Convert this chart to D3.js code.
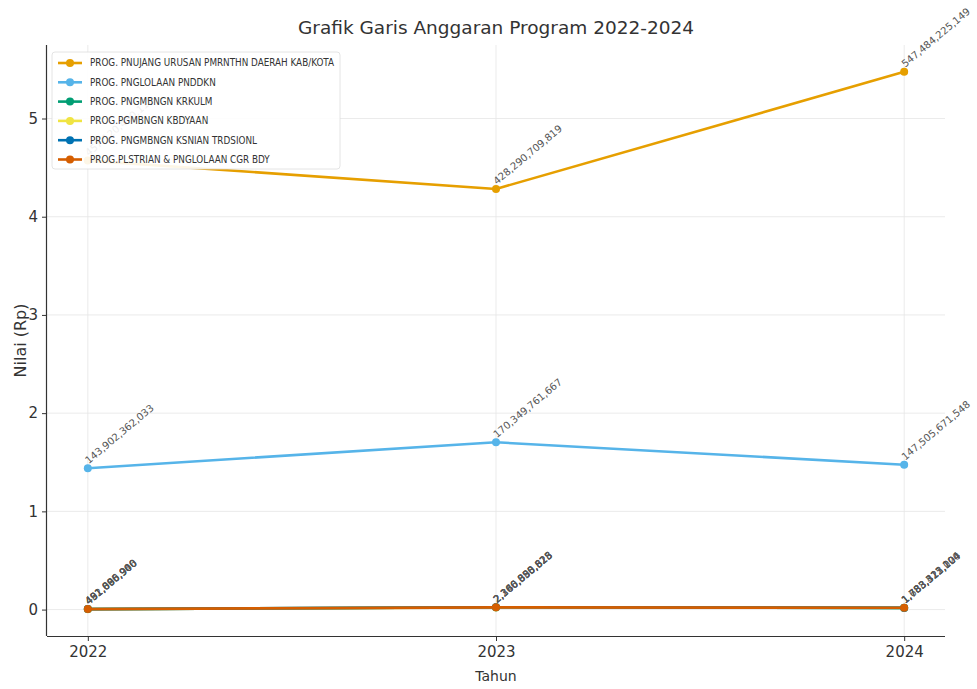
<!DOCTYPE html>
<html>
<head>
<meta charset="utf-8">
<script src="https://cdn.jsdelivr.net/npm/d3@7"></script>
<style>
  html, body { margin: 0; padding: 0; background: #fff; }
  svg { display: block; }
</style>
</head>
<body>
<svg id="chart" width="977" height="689"></svg>
<script>
// ---- data ----
const years = [2022, 2023, 2024];
const seriesNames = [
  "PROG. PNUJANG URUSAN PMRNTHN DAERAH KAB/KOTA",
  "PROG. PNGLOLAAN PNDDKN",
  "PROG. PNGMBNGN KRKULM",
  "PROG.PGMBNGN KBDYAAN",
  "PROG. PNGMBNGN KSNIAN TRDSIONL",
  "PROG.PLSTRIAN & PNGLOLAAN CGR BDY"
];
const seriesColors = ["#E69F00", "#56B4E9", "#009E73", "#F0E442", "#0072B2", "#D55E00"];
const valPemerintahan = [457120450110, 428290709819, 547484225149];
const valPendidikan   = [143902362033, 170349761667, 147505671548];
const valKurikulum    = [491890960, 2360895825, 1783512004];
const valKebudayaan   = [451096900, 2166350525, 1683315120];
const valKesenian     = [492666946, 2340880628, 1733421204];
const valCagarBudaya  = [481085900, 2286058818, 1788323104];
const seriesValues = [valPemerintahan, valPendidikan, valKurikulum, valKebudayaan, valKesenian, valCagarBudaya];
const yTicks = [0, 1, 2, 3, 4, 5];   // in units of 1e11
const yUnit = 1e11;

const title = "Grafik Garis Anggaran Program 2022-2024";
const xLabel = "Tahun";
const yLabel = "Nilai (Rp)";

// ---- layout ----
const svg = d3.select("#chart");
const pL = 47, pR = 945, pT = 45, pB = 636;

const allVals = seriesValues.flat();
const [vmin, vmax] = d3.extent(allVals);
const pad = (vmax - vmin) * 0.05;
const y = d3.scaleLinear().domain([vmin - pad, vmax + pad]).range([pB, pT]);
const x = d3.scaleLinear().domain([years[0] - 0.1, years[years.length - 1] + 0.1]).range([pL, pR]);

// grid
const g = svg.append("g");
g.selectAll("line.hg").data(yTicks).join("line")
  .attr("x1", pL).attr("x2", pR)
  .attr("y1", d => y(d * yUnit)).attr("y2", d => y(d * yUnit))
  .attr("stroke", "#e6e6e6").attr("stroke-width", 0.8);
g.selectAll("line.vg").data(years).join("line")
  .attr("x1", d => x(d)).attr("x2", d => x(d))
  .attr("y1", pT).attr("y2", pB)
  .attr("stroke", "#e6e6e6").attr("stroke-width", 0.8);

// axes
const xAxis = d3.axisBottom(x).tickValues(years).tickFormat(d3.format("d")).tickSize(5).tickPadding(5);
const yAxis = d3.axisLeft(y).tickValues(yTicks.map(d => d * yUnit)).tickFormat(d => d3.format("d")(d / yUnit)).tickSize(5).tickPadding(4);

const gx = svg.append("g").attr("transform", `translate(0,${pB})`).call(xAxis);
gx.select(".domain").attr("d", `M${pL},0.5H${pR}`).attr("stroke", "#333").attr("stroke-width", 1.2);
gx.selectAll(".tick line").attr("stroke", "#333");
gx.selectAll(".tick text").attr("fill", "#333").style("font-family", "DejaVu Sans, sans-serif").style("font-size", "15px");

const gy = svg.append("g").attr("transform", `translate(${pL},0)`).call(yAxis);
gy.select(".domain").attr("d", `M-0.5,${pT}V${pB}`).attr("stroke", "#333").attr("stroke-width", 1.2);
gy.selectAll(".tick line").attr("stroke", "#333");
gy.selectAll(".tick text").attr("fill", "#333").style("font-family", "DejaVu Sans, sans-serif").style("font-size", "15px");

// lines
const line = d3.line().x((d, i) => x(years[i])).y(d => y(d));
seriesValues.forEach((vals, si) => {
  const col = seriesColors[si];
  svg.append("path").datum(vals).attr("d", line)
    .attr("fill", "none").attr("stroke", col).attr("stroke-width", 2.6).attr("stroke-linejoin", "round");
  svg.append("g").selectAll("circle").data(vals).join("circle")
    .attr("cx", (d, i) => x(years[i])).attr("cy", d => y(d)).attr("r", 4).attr("fill", col);
});
// value labels
seriesValues.forEach((vals, si) => {
  svg.append("g").selectAll("text").data(vals).join("text")
    .attr("transform", (d, i) => `translate(${x(years[i]) + 1},${y(d) - 4}) rotate(-40)`)
    .attr("fill", "#555")
    .style("font-family", "DejaVu Sans, sans-serif").style("font-size", "10px")
    .text(d => d3.format(",")(d));
});

// legend
const lg = svg.append("g").attr("transform", "translate(52,52)");
lg.append("rect").attr("width", 288).attr("height", 117).attr("rx", 3)
  .attr("fill", "#fff").attr("fill-opacity", 0.9).attr("stroke", "#ddd").attr("stroke-width", 0.8);
seriesNames.forEach((name, i) => {
  const row = lg.append("g").attr("transform", `translate(0,${11 + i * 19.3})`);
  row.append("line").attr("x1", 6).attr("x2", 30).attr("y1", 0).attr("y2", 0)
    .attr("stroke", seriesColors[i]).attr("stroke-width", 2.6);
  row.append("circle").attr("cx", 18).attr("cy", 0).attr("r", 4).attr("fill", seriesColors[i]);
  row.append("text").attr("x", 38).attr("y", 0).attr("dy", "0.35em")
    .attr("fill", "#333")
    .style("font-family", "'DejaVu Sans Condensed', 'Liberation Sans Narrow', sans-serif")
    .style("font-size", "9.8px")
    .text(name);
});

// titles
svg.append("text").attr("x", (pL + pR) / 2).attr("y", 34).attr("text-anchor", "middle")
  .attr("fill", "#333").style("font-family", "DejaVu Sans, sans-serif").style("font-size", "18.5px")
  .text(title);
svg.append("text").attr("x", (pL + pR) / 2).attr("y", 681).attr("text-anchor", "middle")
  .attr("fill", "#333").style("font-family", "DejaVu Sans, sans-serif").style("font-size", "14px")
  .text(xLabel);
svg.append("text").attr("transform", `translate(26,${(pT + pB) / 2}) rotate(-90)`).attr("text-anchor", "middle")
  .attr("fill", "#333").style("font-family", "DejaVu Sans, sans-serif").style("font-size", "16px")
  .text(yLabel);
</script>
</body>
</html>
